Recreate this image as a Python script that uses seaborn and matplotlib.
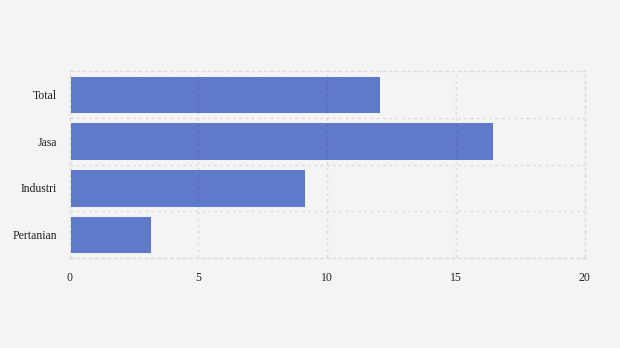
import matplotlib
matplotlib.use("Agg")
import matplotlib.pyplot as plt
import seaborn as sns
import pandas as pd

categories = ["Total", "Jasa", "Industri", "Pertanian"]
values = [12.05, 16.45, 9.15, 3.15]
xticks = [0, 5, 10, 15, 20]

sns.set_theme(style="white")
plt.rcParams['font.family'] = ['Liberation Serif', 'DejaVu Serif']

df = pd.DataFrame({"cat": categories, "val": values})

fig = plt.figure(figsize=(6.2, 3.48), dpi=100)
fig.patch.set_facecolor("#f4f4f4")
ax = fig.add_axes([69.5/620, 1-258/348, 515/620, 187/348])
ax.set_facecolor("#f4f4f4")

sns.barplot(data=df, y="cat", x="val", orient="h", color="#5f7ac9", saturation=1,
            width=0.8, edgecolor="white", linewidth=0.6, ax=ax)

ax.set_xlim(0, 20)
ax.set_ylim(3.5, -0.5)
ax.set_xticks(xticks)
ax.set_xticklabels([str(t) for t in xticks])
ax.set_xlabel("")
ax.set_ylabel("")

gc = (0, 0, 0, 0.09)
dash = (0, (2, 2.5))
for x in xticks[1:-1]:
    ax.axvline(x, color=gc, ls=dash, lw=1, zorder=3)
for y in [0.5, 1.5, 2.5]:
    ax.axhline(y, color=gc, ls=dash, lw=1, zorder=3)
for s in ax.spines.values():
    s.set_visible(True)
    s.set_color(gc)
    s.set_linestyle(dash)
    s.set_linewidth(1)

ax.tick_params(axis="y", length=5, color="#d6d6d6", width=1, labelsize=8.5, pad=4, labelcolor="#222222")
ax.tick_params(axis="x", length=0, labelsize=8.5, pad=10, labelcolor="#222222")

fig.savefig("out.png", dpi=100, facecolor=fig.get_facecolor())
